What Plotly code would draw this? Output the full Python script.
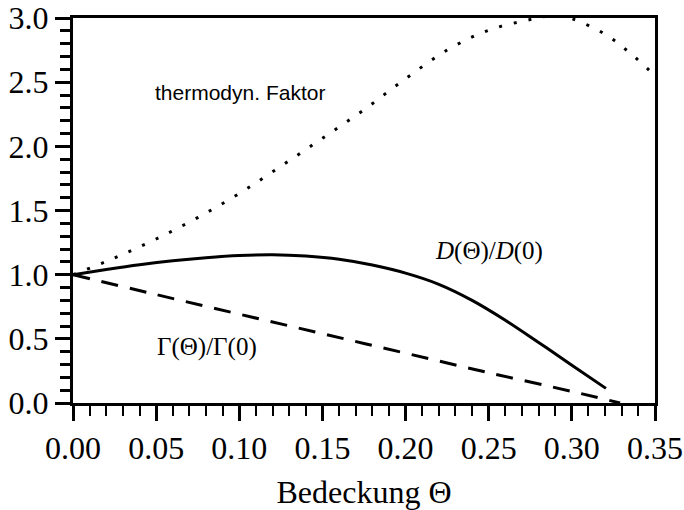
import plotly.graph_objects as go

# Thermodynamic factor (dotted)
theta_thermo = [0.0, 0.025, 0.05, 0.075, 0.10, 0.125, 0.15, 0.175, 0.20, 0.225, 0.25, 0.275, 0.29, 0.30, 0.32, 0.335, 0.35]
thermo = [1.0, 1.13, 1.278, 1.445, 1.633, 1.845, 2.063, 2.285, 2.527, 2.75, 2.905, 2.988, 3.02, 2.995, 2.873, 2.727, 2.55]

# D(Theta)/D(0) (solid)
theta_D = [0.0, 0.02, 0.04, 0.06, 0.08, 0.10, 0.12, 0.14, 0.16, 0.18, 0.20, 0.22, 0.24, 0.26, 0.28, 0.30, 0.3205]
D_ratio = [1.0, 1.04, 1.077, 1.108, 1.132, 1.149, 1.155, 1.145, 1.12, 1.075, 1.012, 0.925, 0.80, 0.645, 0.472, 0.295, 0.114]

# Gamma(Theta)/Gamma(0) (dashed)
theta_G = [0.0, 0.05, 0.10, 0.15, 0.20, 0.25, 0.30, 0.329]
G_ratio = [1.0, 0.845, 0.692, 0.540, 0.388, 0.236, 0.09, 0.0]

x_ticks = [0.0, 0.05, 0.10, 0.15, 0.20, 0.25, 0.30, 0.35]
y_ticks = [0.0, 0.5, 1.0, 1.5, 2.0, 2.5, 3.0]

SERIF = "Liberation Serif"

fig = go.Figure()
fig.add_trace(go.Scatter(x=theta_thermo, y=thermo, mode="lines",
                         line=dict(color="black", width=3, dash="3px,12px", shape="spline"),
                         showlegend=False))
fig.add_trace(go.Scatter(x=theta_D, y=D_ratio, mode="lines",
                         line=dict(color="black", width=3, shape="spline"),
                         showlegend=False))
fig.add_trace(go.Scatter(x=theta_G, y=G_ratio, mode="lines",
                         line=dict(color="black", width=3, dash="17px,12px", shape="spline"),
                         showlegend=False))

fig.add_annotation(x=0.1004, y=2.416, xref="x", yref="y", text="thermodyn. Faktor",
                   showarrow=False, xanchor="center", yanchor="middle",
                   font=dict(family="Liberation Sans", size=21, color="black"))
fig.add_annotation(x=0.2502, y=1.184, xref="x", yref="y", text="<i>D</i>(Θ)/<i>D</i>(0)",
                   showarrow=False, xanchor="center", yanchor="middle",
                   font=dict(family=SERIF, size=25, color="black"))
fig.add_annotation(x=0.0804, y=0.44, xref="x", yref="y", text="Γ(Θ)/Γ(0)",
                   showarrow=False, xanchor="center", yanchor="middle",
                   font=dict(family=SERIF, size=25, color="black"))

fig.update_layout(
    width=684, height=510,
    margin=dict(l=73, r=29, t=18, b=107),
    paper_bgcolor="white", plot_bgcolor="white",
    font=dict(family=SERIF, size=32, color="black"),
)
fig.update_xaxes(
    range=[0, 0.35], tickvals=x_ticks, tickformat=".2f", automargin=False,
    showgrid=False, zeroline=False,
    showline=True, linecolor="black", linewidth=3, mirror=True,
    ticks="outside", ticklen=15, tickwidth=3, tickcolor="black",
    minor=dict(dtick=0.01, ticks="outside", ticklen=10, tickwidth=2, tickcolor="black", showgrid=False),
    title=dict(text="Bedeckung Θ", font=dict(family=SERIF, size=32), standoff=16),
    tickfont=dict(family=SERIF, size=32),
)
fig.update_yaxes(
    range=[0, 3.0], tickvals=y_ticks, tickformat=".1f", automargin=False,
    showgrid=False, zeroline=False,
    showline=True, linecolor="black", linewidth=3, mirror=True,
    ticks="outside", ticklen=15, tickwidth=3, tickcolor="black",
    minor=dict(dtick=0.1, ticks="outside", ticklen=10, tickwidth=3, tickcolor="black", showgrid=False),
    tickfont=dict(family=SERIF, size=32),
)

fig.write_html("out.html")
